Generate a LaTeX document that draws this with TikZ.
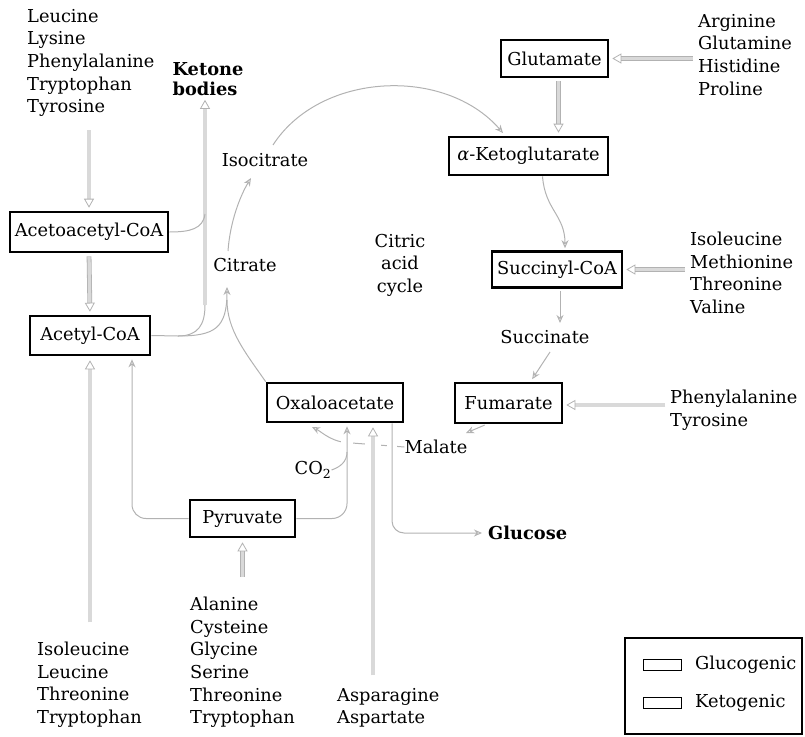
\documentclass[tikz,border=0pt]{standalone}
\usepackage{fontspec}
\setmainfont{DejaVu Serif}
\usetikzlibrary{arrows.meta,backgrounds}
\begin{document}
\begin{tikzpicture}[x=1pt,y=-1pt,
  every node/.style={font=\fontsize{17.8}{22.6}\selectfont, inner sep=0pt},
  box/.style={draw=black, line width=2.6pt, fill=white, minimum height=38pt, inner xsep=4pt},
  lst/.style={align=left, anchor=north west},
  bld/.style={font=\fontsize{17.8}{20}\selectfont\bfseries},
  thk/.style={draw=gray!60, line width=0.8pt, double=gray!30, double distance=3.2pt,
              -{Triangle[open,length=9pt,width=10pt]}},
  thn/.style={draw=gray!60, line width=1pt},
  tip/.style={-{Stealth[open,length=8pt,width=7pt]}},
  leg/.style={draw=black, line width=1pt, minimum width=38pt, minimum height=11pt},
  ]
\useasboundingbox (0,0) rectangle (805,736);

% ---- nodes ----
\node[lst] (l1) at (27,9) {Leucine\\Lysine\\Phenylalanine\\Tryptophan\\Tyrosine};
\node[bld, align=left] (ket) at (208,79) {Ketone\\bodies};
\node[box, minimum width=158pt, minimum height=40pt] (aac) at (89,232) {Acetoacetyl-CoA};
\node[box, minimum width=120pt, minimum height=39pt] (acc) at (90,335.5) {Acetyl-CoA};
\node (iso) at (265,160) {Isocitrate};
\node (cit) at (245,265) {Citrate};
\node[align=center] (cac) at (400,265) {Citric\\acid\\cycle};
\node[box, minimum width=107pt, minimum height=37pt] (glu) at (554.5,58.5) {Glutamate};
\node[lst] (l2) at (698,14) {Arginine\\Glutamine\\Histidine\\Proline};
\node[box, minimum width=159pt] (akg) at (528.5,156) {{\itshape α}-Ketoglutarate};
\node[box, minimum width=130pt, minimum height=36pt] (suc) at (557,269.5) {Succinyl-CoA};
\node[lst] (l3) at (690,232) {Isoleucine\\Methionine\\Threonine\\Valine};
\node (sct) at (545,337) {Succinate};
\node[box, minimum width=107pt, minimum height=40pt] (fum) at (508.5,403) {Fumarate};
\node[lst] (l4) at (670,390) {Phenylalanine\\Tyrosine};
\node (mal) at (436,447) {Malate};
\node[box, minimum width=136pt, minimum height=39pt] (oaa) at (335,402.5) {Oxaloacetate};
\node (co2) at (313,470) {CO\textsubscript{2}};
\node[box, minimum width=105pt, minimum height=37pt] (pyr) at (242.5,518.5) {Pyruvate};
\node[bld, anchor=west] (gluc) at (488,533) {Glucose};
\node[lst] (l5) at (37,642) {Isoleucine\\Leucine\\Threonine\\Tryptophan};
\node[lst] (l6) at (190,597) {Alanine\\Cysteine\\Glycine\\Serine\\Threonine\\Tryptophan};
\node[lst] (l7) at (337,688) {Asparagine\\Aspartate};

% legend
\node[draw=black, line width=1.2pt, minimum width=177pt, minimum height=96pt] (legbox) at (713.5,686) {};
\node[leg] (lg1) at (662,665) {};
\node[anchor=west] (lt1) at (695,665) {Glucogenic};
\node[leg] (lg2) at (662,703) {};
\node[anchor=west] (lt2) at (695,703) {Ketogenic};

% ---- connectors ----
\begin{scope}[on background layer]
\coordinate (kb) at (205,305);
\coordinate (cin) at (227,287);
\coordinate (acj) at (178,336);
% malate -> oxaloacetate (crossed by the vertical lines)
\draw[thn, tip] (mal.west) -- (352,443) .. controls (332,443) and (322,432) .. (312,427);
\fill[white] (341,438) rectangle (353,448);
\fill[white] (365,438) rectangle (381,448);
\fill[white] (387,438) rectangle (397,448);
% amino acids -> acetoacetyl-CoA -> acetyl-CoA
\draw[thk, shorten >=3pt] (aac.north |- 0,130) -- (aac.north);
\draw[thk, shorten <=3pt, shorten >=3pt] (aac.south) -- (acc.north);
\draw[thk, shorten >=4pt] (acc.south |- 0,622) -- (acc.south);
% pyruvate -> acetyl-CoA
\draw[thn, tip, rounded corners=14pt, shorten >=3pt] (pyr.west) -| ([xshift=42pt]acc.south);
% to ketone bodies
\draw[thn] (acc.east) -- (acj) .. controls (198,336) and (205,325) .. (kb);
\draw[thk, shorten >=4pt] (kb) -- (ket.south -| kb);
\draw[thn] (aac.east) .. controls (190,232) and (203,229) .. (205,214);
% to citrate
\draw[thn, tip] (acj) .. controls (215,336) and (227,328) .. (cin);
\draw[thn] (oaa.north west) .. controls (245,352) and (227,330) .. (227,300);
% citrate -> isocitrate -> alpha-KG
\draw[thn, tip] (228,251) .. controls (230,222) and (240,196) .. (251,178);
\draw[thn, tip] (273,145) .. controls (320,72) and (445,66) .. (503,133);
% glutamate
\draw[thk, shorten <=5pt, shorten >=3pt] (l2.west |- glu.east) -- (glu.east);
\draw[thk, shorten <=3pt, shorten >=3pt] ([xshift=4pt]glu.south) -- ([xshift=4pt]glu.south |- akg.north);
% alpha-KG -> succinyl-CoA
\draw[thn, tip, shorten >=2pt] ([xshift=14pt]akg.south) .. controls (545,210) and (565,215) .. ([xshift=8pt]suc.north);
\draw[thk, shorten <=5pt, shorten >=3pt] (l3.west |- suc.east) -- (suc.east);
% succinyl-CoA -> succinate -> fumarate
\draw[thn, tip, shorten <=2pt] ([xshift=3pt]suc.south) -- (560,323);
\draw[thn, tip, shorten >=3pt] (550,352) -- ([xshift=22pt]fum.north);
\draw[thk, shorten <=5pt, shorten >=3pt] (l4.west |- 0,405) -- (fum.east |- 0,405);
% fumarate -> malate
\draw[thn, tip, shorten <=2pt] ([xshift=-22pt]fum.south) -- (466,433);
% pyruvate + CO2 -> oxaloacetate
\draw[thn, tip, rounded corners=15pt, shorten >=3pt] (pyr.east) -| ([xshift=12pt]oaa.south);
\draw[thn] (co2.east) .. controls (340,467) and (347,462) .. (347,452);
% asparagine -> oxaloacetate
\draw[thk, shorten >=4pt] (373,675) -- ([xshift=38pt]oaa.south);
% oxaloacetate -> glucose
\draw[thn, tip, rounded corners=12pt, shorten >=6pt] ([xshift=57pt]oaa.south) |- (gluc.west);
% alanine etc -> pyruvate
\draw[thk, shorten >=4pt] (pyr.south |- 0,577) -- (pyr.south);
\end{scope}
\end{tikzpicture}
\end{document}
